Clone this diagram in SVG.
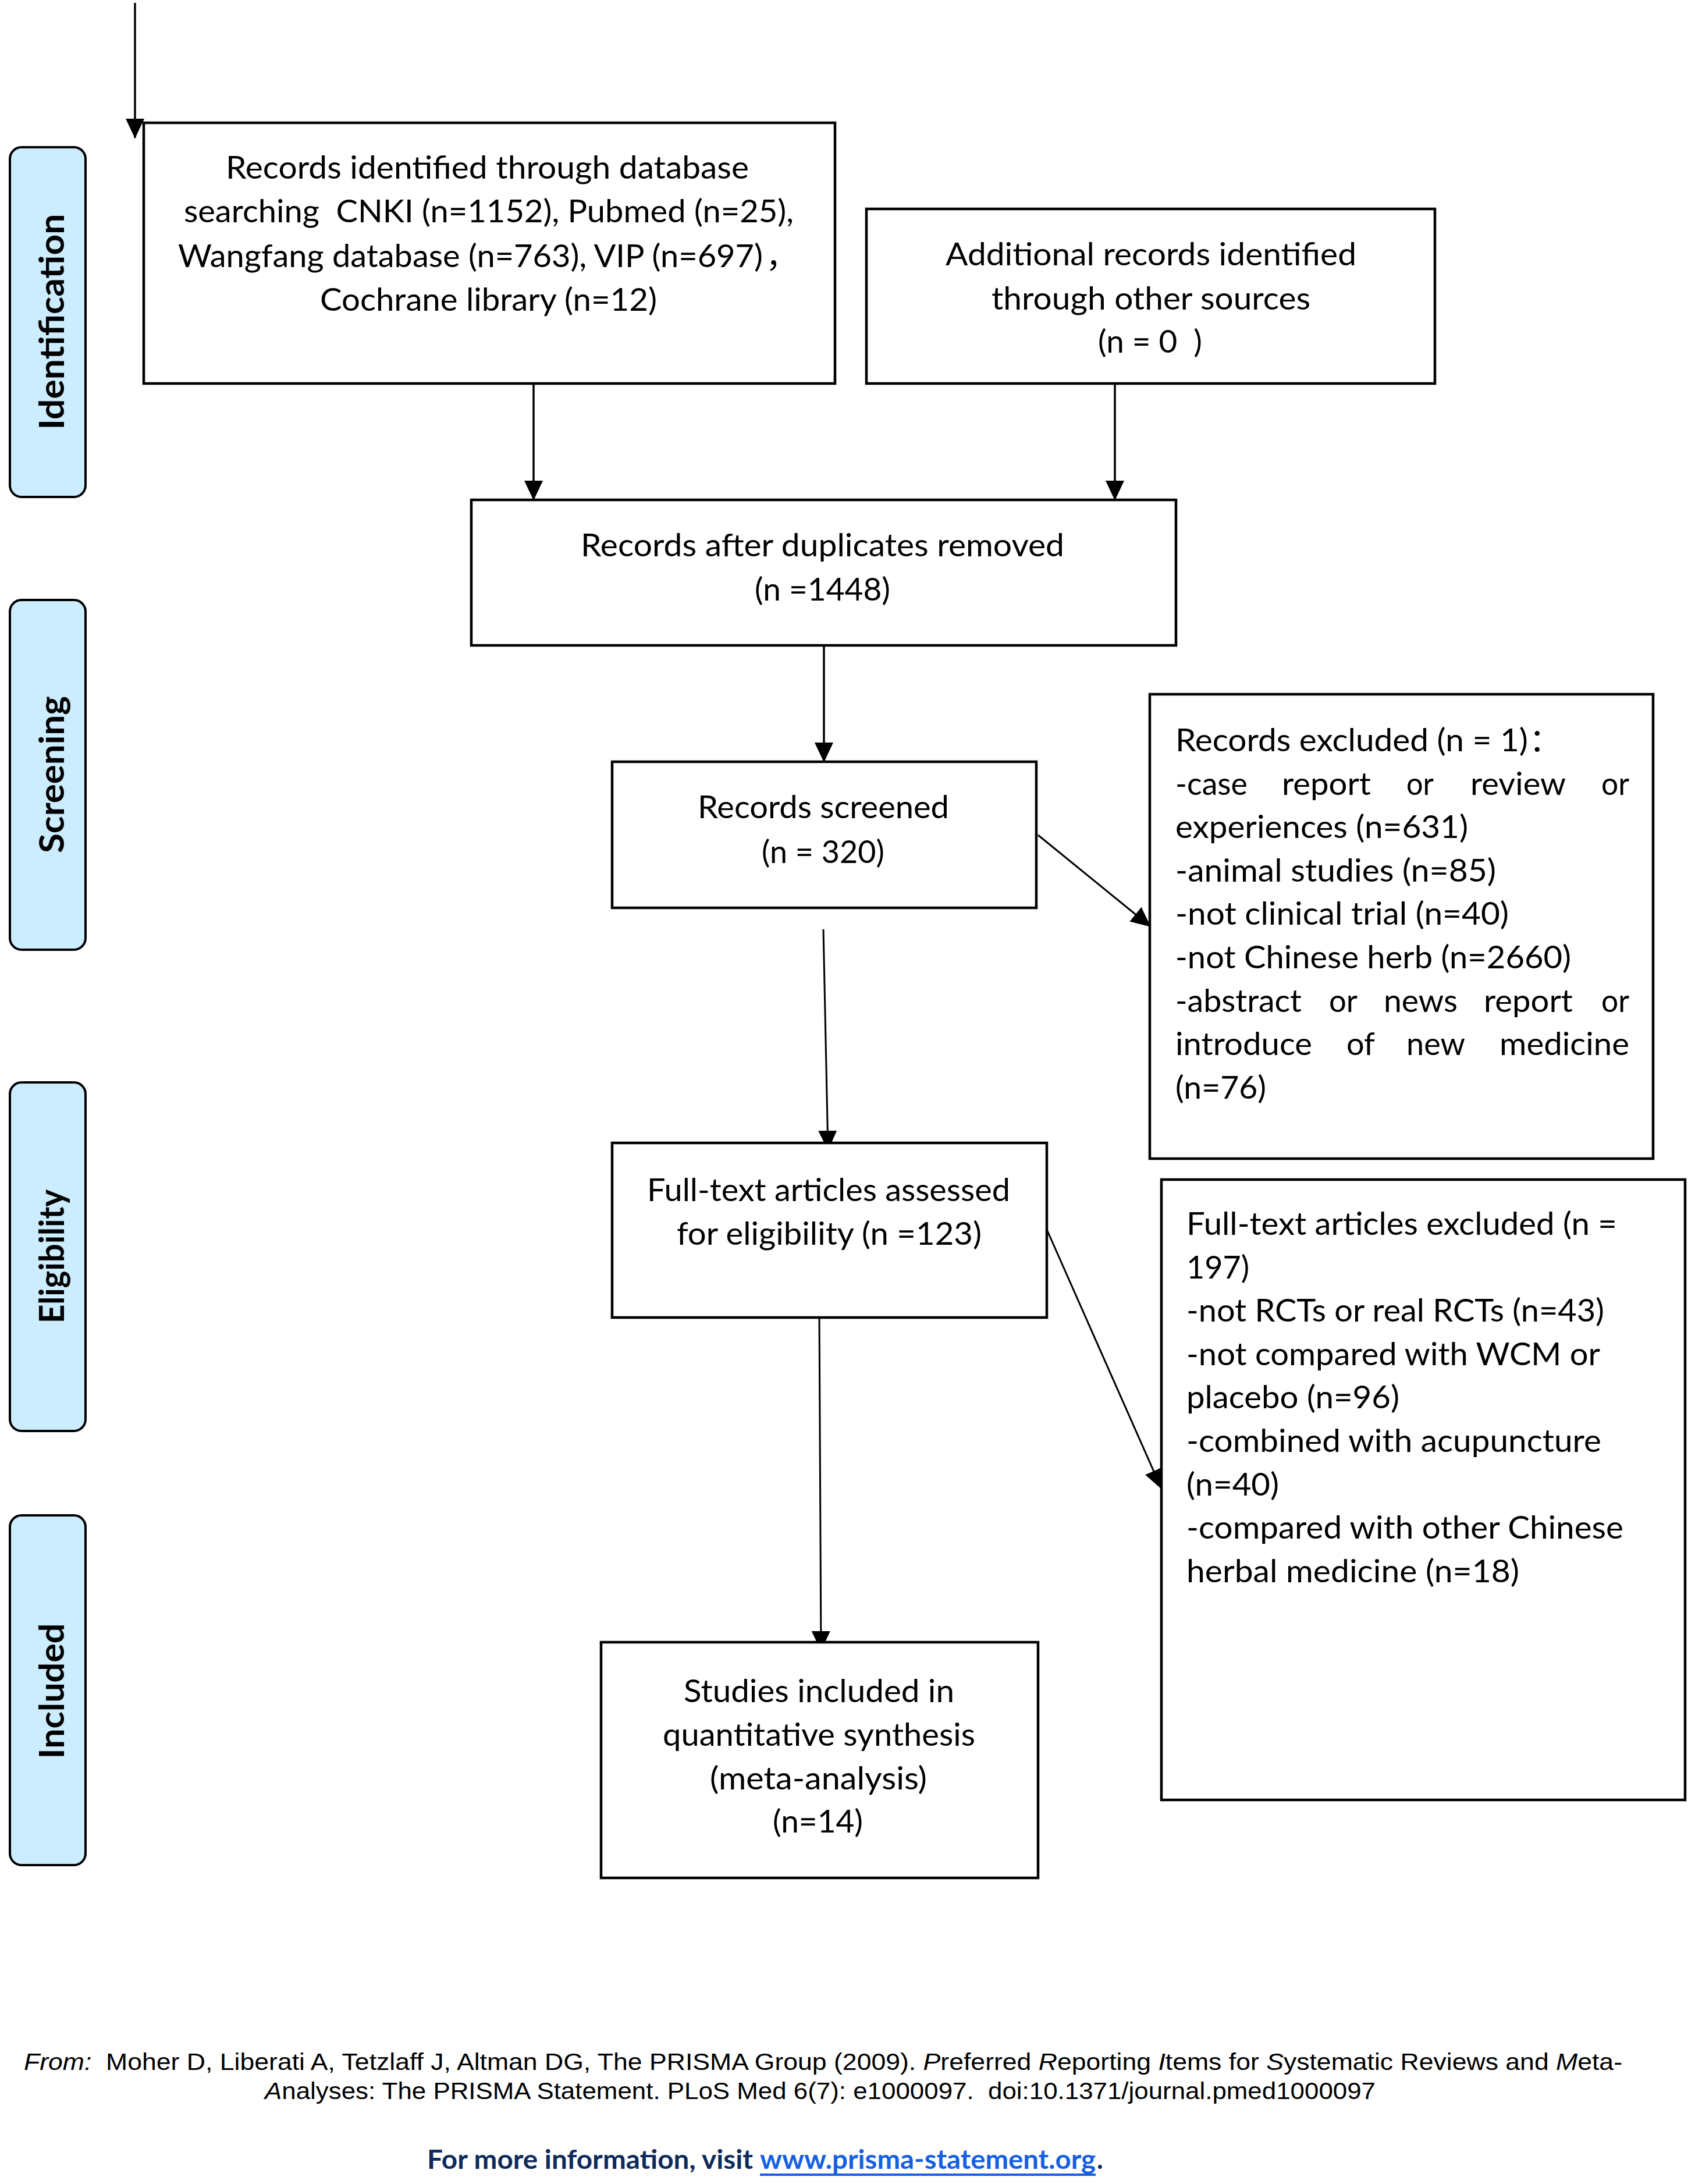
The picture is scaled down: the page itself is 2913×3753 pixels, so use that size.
<svg xmlns="http://www.w3.org/2000/svg" width="2913" height="3753" viewBox="0 0 2913 3753">
<style>
.box{fill:#fff;stroke:#000;stroke-width:4.5}
.lab{fill:#CCECFF;stroke:#000;stroke-width:4}
.lt{font-family:Lato,"Open Sans","Noto Sans CJK SC",sans-serif;font-weight:bold;font-size:60px;fill:#000}
.t{font-family:Lato,"Open Sans","Noto Sans CJK SC",sans-serif;font-size:55px;fill:#000;white-space:pre}
.f{font-family:"Liberation Sans",Arial,sans-serif;font-size:40px;fill:#000;white-space:pre}
.i{font-style:italic}
.m{font-family:Lato,"Open Sans",sans-serif;font-weight:bold;font-size:45px;white-space:pre}
.con{fill:none;stroke:#000;stroke-width:3.5}
</style>
<defs>
<marker id="ah" markerUnits="userSpaceOnUse" markerWidth="34" markerHeight="32" refX="33" refY="16" orient="auto">
<path d="M0,0 L34,16 L0,32 z" fill="#000"/>
</marker>
</defs>
<rect width="2913" height="3753" fill="#fff"/>

<g id="label-identification">
<rect class="lab" x="17" y="253" width="130" height="601" rx="20"/>
<text class="lt" transform="translate(110,553) rotate(-90)" text-anchor="middle" textLength="371" lengthAdjust="spacingAndGlyphs">Identification</text>
</g>
<g id="label-screening">
<rect class="lab" x="17" y="1031" width="130" height="601" rx="20"/>
<text class="lt" transform="translate(110,1331) rotate(-90)" text-anchor="middle" textLength="270" lengthAdjust="spacingAndGlyphs">Screening</text>
</g>
<g id="label-eligibility">
<rect class="lab" x="17" y="1860" width="130" height="599" rx="20"/>
<text class="lt" transform="translate(110,2159) rotate(-90)" text-anchor="middle" textLength="230" lengthAdjust="spacingAndGlyphs">Eligibility</text>
</g>
<g id="label-included">
<rect class="lab" x="17" y="2604" width="130" height="601" rx="20"/>
<text class="lt" transform="translate(110,2906) rotate(-90)" text-anchor="middle" textLength="233" lengthAdjust="spacingAndGlyphs">Included</text>
</g>

<g id="connectors">
<path class="con" d="M232,5 V237" marker-end="url(#ah)"/>
<path class="con" d="M917,659 V859" marker-end="url(#ah)"/>
<path class="con" d="M1916,659 V859" marker-end="url(#ah)"/>
<path class="con" d="M1416,1109 V1309" marker-end="url(#ah)"/>
<path class="con" d="M1784,1435 L1977,1592" marker-end="url(#ah)" style="stroke-width:3"/>
<path class="con" d="M1415,1597 L1423,1976" marker-end="url(#ah)" style="stroke-width:3"/>
<path class="con" d="M1800,2115 L1996,2558" marker-end="url(#ah)" style="stroke-width:3"/>
<path class="con" d="M1408,2257 L1411,2836" marker-end="url(#ah)" style="stroke-width:3"/>
</g>

<g id="node-identified">
<rect class="box" x="247" y="211" width="1188" height="448"/>
<text class="t" x="388" y="307" textLength="899" lengthAdjust="spacingAndGlyphs">Records identified through database</text>
<text class="t" x="316" y="382" textLength="1048" lengthAdjust="spacingAndGlyphs" xml:space="preserve">searching  CNKI (n=1152), Pubmed (n=25),</text>
<text class="t" x="306" y="459" textLength="1005" lengthAdjust="spacingAndGlyphs">Wangfang database (n=763), VIP (n=697)</text>
<text class="t" x="1316" y="459">，</text>
<text class="t" x="550" y="534" textLength="579" lengthAdjust="spacingAndGlyphs">Cochrane library (n=12)</text>
</g>

<g id="node-additional">
<rect class="box" x="1489" y="359" width="977" height="300"/>
<text class="t" x="1625" y="456" textLength="706" lengthAdjust="spacingAndGlyphs">Additional records identified</text>
<text class="t" x="1704" y="532" textLength="548" lengthAdjust="spacingAndGlyphs">through other sources</text>
<text class="t" x="1887" y="606" textLength="179" lengthAdjust="spacingAndGlyphs" xml:space="preserve">(n = 0  )</text>
</g>

<g id="node-duplicates">
<rect class="box" x="810" y="859" width="1211" height="250"/>
<text class="t" x="998" y="956" textLength="831" lengthAdjust="spacingAndGlyphs">Records after duplicates removed</text>
<text class="t" x="1297" y="1032" textLength="233" lengthAdjust="spacingAndGlyphs">(n =1448)</text>
</g>

<g id="node-screened">
<rect class="box" x="1052" y="1309" width="729" height="251"/>
<text class="t" x="1199" y="1406" textLength="432" lengthAdjust="spacingAndGlyphs">Records screened</text>
<text class="t" x="1309" y="1483" textLength="211" lengthAdjust="spacingAndGlyphs">(n = 320)</text>
</g>

<g id="node-records-excluded">
<rect class="box" x="1976" y="1193" width="865" height="798"/>
<text class="t" x="2020" y="1291" textLength="606" lengthAdjust="spacingAndGlyphs">Records excluded (n = 1)</text>
<text class="t" x="2628" y="1291">：</text>
<text class="t" x="2020" y="1366" textLength="124" lengthAdjust="spacingAndGlyphs">-case</text>
<text class="t" x="2203" y="1366" textLength="153" lengthAdjust="spacingAndGlyphs">report</text>
<text class="t" x="2417" y="1366" textLength="47" lengthAdjust="spacingAndGlyphs">or</text>
<text class="t" x="2527" y="1366" textLength="164" lengthAdjust="spacingAndGlyphs">review</text>
<text class="t" x="2752" y="1366" textLength="48" lengthAdjust="spacingAndGlyphs">or</text>
<text class="t" x="2020" y="1440" textLength="503" lengthAdjust="spacingAndGlyphs">experiences (n=631)</text>
<text class="t" x="2020" y="1515" textLength="551" lengthAdjust="spacingAndGlyphs">-animal studies (n=85)</text>
<text class="t" x="2020" y="1589" textLength="573" lengthAdjust="spacingAndGlyphs">-not clinical trial (n=40)</text>
<text class="t" x="2020" y="1664" textLength="680" lengthAdjust="spacingAndGlyphs">-not Chinese herb (n=2660)</text>
<text class="t" x="2020" y="1739" textLength="217" lengthAdjust="spacingAndGlyphs">-abstract</text>
<text class="t" x="2284" y="1739" textLength="49" lengthAdjust="spacingAndGlyphs">or</text>
<text class="t" x="2378" y="1739" textLength="127" lengthAdjust="spacingAndGlyphs">news</text>
<text class="t" x="2550" y="1739" textLength="153" lengthAdjust="spacingAndGlyphs">report</text>
<text class="t" x="2752" y="1739" textLength="48" lengthAdjust="spacingAndGlyphs">or</text>
<text class="t" x="2020" y="1813" textLength="235" lengthAdjust="spacingAndGlyphs">introduce</text>
<text class="t" x="2314" y="1813" textLength="49" lengthAdjust="spacingAndGlyphs">of</text>
<text class="t" x="2417" y="1813" textLength="101" lengthAdjust="spacingAndGlyphs">new</text>
<text class="t" x="2577" y="1813" textLength="223" lengthAdjust="spacingAndGlyphs">medicine</text>
<text class="t" x="2020" y="1888" textLength="156" lengthAdjust="spacingAndGlyphs">(n=76)</text>
</g>

<g id="node-fulltext">
<rect class="box" x="1052" y="1964" width="747" height="300"/>
<text class="t" x="1112" y="2064" textLength="624" lengthAdjust="spacingAndGlyphs">Full-text articles assessed</text>
<text class="t" x="1163" y="2139" textLength="524" lengthAdjust="spacingAndGlyphs">for eligibility (n =123)</text>
</g>

<g id="node-fulltext-excluded">
<rect class="box" x="1996" y="2027" width="900" height="1066"/>
<text class="t" x="2039" y="2122" textLength="740" lengthAdjust="spacingAndGlyphs">Full-text articles excluded (n =</text>
<text class="t" x="2039" y="2197" textLength="108" lengthAdjust="spacingAndGlyphs">197)</text>
<text class="t" x="2039" y="2271" textLength="718" lengthAdjust="spacingAndGlyphs">-not RCTs or real RCTs (n=43)</text>
<text class="t" x="2039" y="2346" textLength="711" lengthAdjust="spacingAndGlyphs">-not compared with WCM or</text>
<text class="t" x="2039" y="2420" textLength="366" lengthAdjust="spacingAndGlyphs">placebo (n=96)</text>
<text class="t" x="2039" y="2495" textLength="713" lengthAdjust="spacingAndGlyphs">-combined with acupuncture</text>
<text class="t" x="2039" y="2570" textLength="159" lengthAdjust="spacingAndGlyphs">(n=40)</text>
<text class="t" x="2039" y="2644" textLength="751" lengthAdjust="spacingAndGlyphs">-compared with other Chinese</text>
<text class="t" x="2039" y="2719" textLength="572" lengthAdjust="spacingAndGlyphs">herbal medicine (n=18)</text>
</g>

<g id="node-included">
<rect class="box" x="1033" y="2822" width="751" height="405"/>
<text class="t" x="1175" y="2925" textLength="465" lengthAdjust="spacingAndGlyphs">Studies included in</text>
<text class="t" x="1139" y="3000" textLength="537" lengthAdjust="spacingAndGlyphs">quantitative synthesis</text>
<text class="t" x="1220" y="3075" textLength="373" lengthAdjust="spacingAndGlyphs">(meta-analysis)</text>
<text class="t" x="1328" y="3149" textLength="155" lengthAdjust="spacingAndGlyphs">(n=14)</text>
</g>

<g id="footer">
<text class="f" x="41" y="3557" textLength="2747" lengthAdjust="spacingAndGlyphs" xml:space="preserve"><tspan class="i">From:</tspan>  Moher D, Liberati A, Tetzlaff J, Altman DG, The PRISMA Group (2009). <tspan class="i">P</tspan>referred <tspan class="i">R</tspan>eporting <tspan class="i">I</tspan>tems for <tspan class="i">S</tspan>ystematic Reviews and <tspan class="i">M</tspan>eta-</text>
<text class="f" x="455" y="3607" textLength="1909" lengthAdjust="spacingAndGlyphs" xml:space="preserve"><tspan class="i">A</tspan>nalyses: The PRISMA Statement. PLoS Med 6(7): e1000097.  doi:10.1371/journal.pmed1000097</text>
<text class="m" x="734" y="3727" fill="#0D2B5C" textLength="560" lengthAdjust="spacingAndGlyphs">For more information, visit</text>
<text class="m" x="1306" y="3727" fill="#1560E0" textLength="577" lengthAdjust="spacingAndGlyphs">www.prisma-statement.org</text>
<rect x="1306" y="3735" width="577" height="4" fill="#1560E0"/>
<text class="m" x="1885" y="3727" fill="#0D2B5C">.</text>
</g>
</svg>
